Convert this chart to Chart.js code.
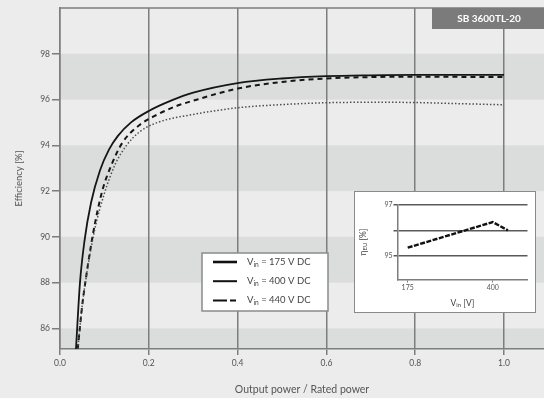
<!DOCTYPE html>
<html>
<head>
<meta charset="utf-8">
<script src="https://cdn.jsdelivr.net/npm/chart.js@4/dist/chart.umd.min.js"></script>
<style>
    html, body { margin: 0; padding: 0; background: #ebeceb; }
    #wrap { position: relative; width: 544px; height: 398px; }
    #main { position: absolute; left: 0; top: 0; }
    #inset-box {
        position: absolute; left: 354px; top: 191px; width: 182px; height: 122px;
        box-sizing: border-box; border: 1.5px solid #8a8a8a; background: #ffffff;
    }
    #inset { display: block; }
</style>
</head>
<body>
<div id="wrap">
    <canvas id="main" width="544" height="398"></canvas>
    <div id="inset-box"><canvas id="inset" width="179" height="119"></canvas></div>
</div>
<script>
// axis ticks and shaded bands of the main chart
const xTicks = [0, 0.2, 0.4, 0.6, 0.8, 1.0];
const yTicks = [86, 88, 90, 92, 94, 96, 98];
const shadedBands = [[85.1, 86], [88, 90], [92, 94], [96, 98]];

const seriesLabels = ['V_{in} = 175 V DC', 'V_{in} = 400 V DC', 'V_{in} = 440 V DC'];

// efficiency curves, output power / rated power vs efficiency [%]
const power175 = [0.04, 0.05, 0.062, 0.078, 0.1, 0.125, 0.15, 0.18, 0.22, 0.3, 0.4, 0.5, 0.6, 0.7, 0.8, 0.9, 1.0];
const eff175 = [85.1, 87.0, 88.6, 90.3, 91.9, 93.2, 94.0, 94.6, 95.0, 95.35, 95.64, 95.78, 95.86, 95.88, 95.87, 95.82, 95.77];

const power400 = [0.036, 0.045, 0.055, 0.07, 0.09, 0.11, 0.13, 0.16, 0.2, 0.25, 0.3, 0.4, 0.5, 0.6, 0.7, 0.8, 0.9, 1.0];
const eff400 = [85.1, 88.0, 89.8, 91.5, 92.9, 93.8, 94.4, 95.0, 95.5, 95.95, 96.3, 96.72, 96.92, 97.02, 97.06, 97.08, 97.08, 97.08];

const power440 = [0.04, 0.05, 0.06, 0.075, 0.095, 0.115, 0.14, 0.18, 0.22, 0.26, 0.3, 0.4, 0.5, 0.6, 0.7, 0.8, 0.9, 1.0];
const eff440 = [85.1, 87.0, 88.4, 90.2, 92.0, 93.1, 94.1, 94.9, 95.35, 95.7, 95.95, 96.48, 96.77, 96.92, 96.98, 97.0, 96.99, 96.98];

// small chart: efficiency vs input voltage
const insetVoltage = [175, 400, 440];
const insetEfficiency = [95.33, 96.32, 96.0];
const insetXTicks = [175, 400];
const insetYTicks = [95, 96, 97];
const insetYLabels = ['95', '', '97'];

const FONT = 'Lato, "DejaVu Sans", sans-serif';
const TEXT_COLOR = '#555555';
const FRAME_COLOR = '#7d7d7d';

function toPoints(xs, ys) {
    return xs.map((x, i) => ({ x, y: ys[i] }));
}

// draws text where _{...} parts become subscripts
function drawRichText(ctx, text, x, y, size, align) {
    const parts = text.split(/_\{([^}]*)\}/);
    const subSize = size * 0.7;
    let total = 0;
    parts.forEach((p, i) => {
        ctx.font = `${i % 2 ? subSize : size}px ${FONT}`;
        total += ctx.measureText(p).width;
    });
    let cx = x;
    if (align === 'center') cx = x - total / 2;
    ctx.textAlign = 'left';
    ctx.textBaseline = 'middle';
    parts.forEach((p, i) => {
        const isSub = i % 2 === 1;
        ctx.font = `${isSub ? subSize : size}px ${FONT}`;
        ctx.fillText(p, cx, isSub ? y + size * 0.3 : y);
        cx += ctx.measureText(p).width;
    });
}

const bandPlugin = {
    id: 'bands',
    beforeDraw(chart) {
        const { ctx, chartArea } = chart;
        const yScale = chart.scales.y;
        ctx.save();
        ctx.fillStyle = '#ebeceb';
        ctx.fillRect(0, 0, chart.width, chart.height);
        ctx.fillStyle = '#dbdcdc';
        shadedBands.forEach(([lo, hi]) => {
            const top = yScale.getPixelForValue(hi);
            const bottom = yScale.getPixelForValue(lo);
            ctx.fillRect(chartArea.left, top, chartArea.right - chartArea.left, bottom - top);
        });
        ctx.restore();
    }
};

const framePlugin = {
    id: 'frame',
    afterDraw(chart) {
        const { ctx, chartArea } = chart;
        ctx.save();
        // top edge of the plot frame
        ctx.strokeStyle = FRAME_COLOR;
        ctx.lineWidth = 1.5;
        ctx.beginPath();
        ctx.moveTo(chartArea.left, chartArea.top);
        ctx.lineTo(chartArea.right, chartArea.top);
        ctx.stroke();

        // model badge
        ctx.fillStyle = '#7b7b7b';
        ctx.fillRect(432, chartArea.top, chartArea.right - 432, 21);
        ctx.fillStyle = '#ffffff';
        ctx.font = `bold 10px ${FONT}`;
        ctx.textAlign = 'center';
        ctx.textBaseline = 'middle';
        ctx.fillText('SB 3600TL-20', 489, chartArea.top + 10.5);

        // legend box
        const lx = 202, ly = 253, lw = 126, lh = 58;
        ctx.fillStyle = '#ffffff';
        ctx.fillRect(lx, ly, lw, lh);
        ctx.strokeStyle = '#8a8a8a';
        ctx.lineWidth = 1.5;
        ctx.strokeRect(lx, ly, lw, lh);
        chart.data.datasets.forEach((ds, i) => {
            const rowY = ly + 9 + i * 19.2;
            ctx.strokeStyle = '#111111';
            ctx.lineWidth = ds.legendWidth;
            ctx.setLineDash(ds.legendDash);
            ctx.beginPath();
            ctx.moveTo(lx + 11, rowY);
            ctx.lineTo(lx + 35, rowY);
            ctx.stroke();
            ctx.setLineDash([]);
            ctx.fillStyle = '#444444';
            drawRichText(ctx, ds.label, lx + 45, rowY, 9.5, 'left');
        });
        ctx.restore();
    }
};

const mainChart = new Chart(document.getElementById('main'), {
    type: 'line',
    data: {
        datasets: [
            {
                label: seriesLabels[0],
                data: toPoints(power175, eff175),
                borderColor: '#4d4d4d',
                borderWidth: 1.5,
                borderDash: [1.5, 2],
                legendDash: [],
                legendWidth: 2.6,
            },
            {
                label: seriesLabels[1],
                data: toPoints(power400, eff400),
                borderColor: '#151515',
                borderWidth: 1.8,
                legendDash: [],
                legendWidth: 2,
            },
            {
                label: seriesLabels[2],
                data: toPoints(power440, eff440),
                borderColor: '#151515',
                borderWidth: 2,
                borderDash: [5, 4],
                legendDash: [14, 3, 6, 3],
                legendWidth: 2,
            },
        ],
    },
    options: {
        responsive: false,
        animation: false,
        layout: { padding: { top: 8, right: 0, left: 0, bottom: 0 } },
        elements: {
            point: { radius: 0 },
            line: { cubicInterpolationMode: 'monotone', fill: false },
        },
        plugins: {
            legend: { display: false },
            tooltip: { enabled: false },
        },
        scales: {
            x: {
                type: 'linear',
                min: 0,
                max: 1.09,
                afterBuildTicks: (scale) => { scale.ticks = xTicks.map((v) => ({ value: v })); },
                afterFit: (scale) => { scale.height = 49; },
                ticks: {
                    callback: (value) => value.toFixed(1),
                    color: TEXT_COLOR,
                    font: { family: FONT, size: 8.5 },
                    padding: 3,
                    maxRotation: 0,
                },
                grid: { color: FRAME_COLOR, lineWidth: 1.5, tickLength: 6 },
                border: { color: FRAME_COLOR, width: 1.5 },
                title: {
                    display: true,
                    text: 'Output power / Rated power',
                    color: TEXT_COLOR,
                    font: { family: FONT, size: 10.5 },
                    padding: { top: 0, bottom: 2 },
                },
            },
            y: {
                type: 'linear',
                min: 85.1,
                max: 100,
                afterBuildTicks: (scale) => { scale.ticks = yTicks.map((v) => ({ value: v })); },
                afterFit: (scale) => { scale.width = 60; },
                ticks: {
                    color: TEXT_COLOR,
                    font: { family: FONT, size: 8.5 },
                    padding: 2,
                },
                grid: { drawOnChartArea: false, color: FRAME_COLOR, lineWidth: 1.5, tickLength: 8 },
                border: { color: FRAME_COLOR, width: 1.5 },
                title: {
                    display: true,
                    text: 'Efficiency [%]',
                    color: TEXT_COLOR,
                    font: { family: FONT, size: 9.5 },
                    padding: { top: 13, bottom: 0 },
                },
            },
        },
    },
    plugins: [bandPlugin, framePlugin],
});

const insetTitlePlugin = {
    id: 'insetTitles',
    afterDraw(chart) {
        const { ctx, chartArea } = chart;
        ctx.save();
        ctx.fillStyle = '#444444';
        const cx = (chartArea.left + chartArea.right) / 2;
        drawRichText(ctx, 'V_{in} [V]', cx, chart.height - 8, 8.5, 'center');
        ctx.translate(8, (chartArea.top + chartArea.bottom) / 2);
        ctx.rotate(-Math.PI / 2);
        drawRichText(ctx, 'η_{EU} [%]', 0, 0, 8.5, 'center');
        ctx.restore();
    }
};

const insetChart = new Chart(document.getElementById('inset'), {
    type: 'line',
    data: {
        datasets: [{
            data: toPoints(insetVoltage, insetEfficiency),
            borderColor: '#111111',
            borderWidth: 2.4,
            borderDash: [5, 1.5],
            tension: 0,
        }],
    },
    options: {
        responsive: false,
        animation: false,
        layout: { padding: { top: 12.5, right: 6.5, left: 0, bottom: 0 } },
        elements: { point: { radius: 0 } },
        plugins: {
            legend: { display: false },
            tooltip: { enabled: false },
        },
        scales: {
            x: {
                type: 'linear',
                min: 148,
                max: 492,
                afterBuildTicks: (scale) => { scale.ticks = insetXTicks.map((v) => ({ value: v })); },
                afterFit: (scale) => { scale.height = 31.5; },
                ticks: { color: TEXT_COLOR, font: { family: FONT, size: 7 }, padding: 1, maxRotation: 0 },
                grid: { drawOnChartArea: false, color: '#7d7d7d', lineWidth: 1, tickLength: 3 },
                border: { color: '#7d7d7d', width: 1.5 },
            },
            y: {
                type: 'linear',
                min: 94.1,
                max: 97,
                afterBuildTicks: (scale) => { scale.ticks = insetYTicks.map((v) => ({ value: v })); },
                afterFit: (scale) => { scale.width = 42.5; },
                ticks: {
                    callback: (value) => insetYLabels[insetYTicks.indexOf(value)],
                    color: TEXT_COLOR,
                    font: { family: FONT, size: 7 },
                    padding: 1,
                },
                grid: { color: '#5a5a5a', lineWidth: 1.5, tickLength: 4 },
                border: { color: '#7d7d7d', width: 1.5 },
            },
        },
    },
    plugins: [insetTitlePlugin],
});
</script>
</body>
</html>
